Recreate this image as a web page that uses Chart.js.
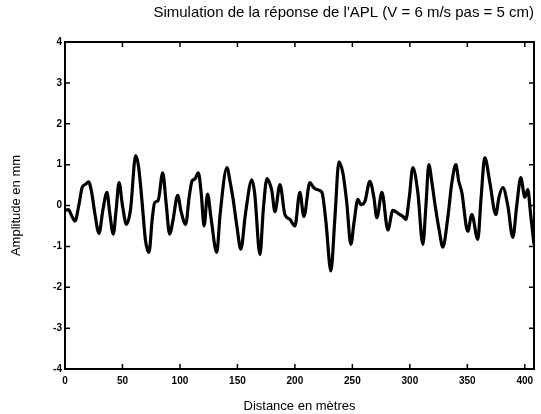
<!DOCTYPE html>
<html>
<head>
<meta charset="utf-8">
<script src="https://cdn.jsdelivr.net/npm/chart.js@4.4.0/dist/chart.umd.min.js"></script>
<style>
  html, body { margin: 0; padding: 0; background: #fff; }
  #wrap { width: 541px; height: 414px; }
</style>
</head>
<body>
<div id="wrap"><canvas id="myChart"></canvas></div>

<script>
// values (distance in m, amplitude in mm)
var distance = [0, 3, 5, 8.7, 12, 15, 18, 20.5, 23, 26, 29.6, 33, 36.5, 39, 42, 44.5, 47, 50, 53.5, 57,
  61.5, 64, 67, 70, 73, 76, 78, 81, 85, 88, 91, 94, 98, 101, 105, 108, 110.5, 113, 116, 118.5,
  121, 124, 127, 132, 135, 140.9, 143.5, 146, 149.5, 153, 157, 162.6, 165, 169.6, 172.5, 175.7, 178, 180, 182.6, 187,
  191.3, 195.7, 200, 204.3, 207.8, 213, 216, 219, 223.5, 227, 231.3, 234.8, 238.3, 241.7, 245, 248.7, 251.5, 254.8, 257.4, 260.9,
  265.2, 268.7, 271.3, 275.7, 280.9, 285.2, 290, 294, 296.5, 299.5, 302.6, 307, 311.3, 314, 316.5, 319, 322, 325.5, 328.7, 333,
  336.5, 340, 342.5, 345.2, 350.4, 353.9, 359.1, 362, 365.2, 369.6, 374.8, 377.5, 380.9, 385.2, 389.6, 393, 396.5, 400, 402.6, 405, 408];

var amplitude = [-0.12, -0.1, -0.2, -0.38, 0.0, 0.45, 0.52, 0.58, 0.35, -0.2, -0.68, -0.1, 0.32, -0.2, -0.7, -0.1, 0.56, 0.0, -0.46, -0.1,
  1.22, 0.95, 0.1, -0.85, -1.15, -0.3, 0.07, 0.12, 0.8, 0.05, -0.7, -0.35, 0.25, -0.15, -0.46, 0.2, 0.6, 0.65, 0.8, 0.3,
  -0.5, 0.28, -0.3, -1.15, -0.2, 0.93, 0.6, 0.2, -0.5, -1.07, -0.2, 0.63, 0.3, -1.2, -0.1, 0.66, 0.55, 0.35, -0.15, 0.51,
  -0.22, -0.34, -0.5, 0.32, -0.27, 0.56, 0.45, 0.39, 0.32, -0.4, -1.6, -0.3, 1.07, 0.8, 0.1, -0.95, -0.4, 0.15, 0.02, 0.1,
  0.59, 0.2, -0.3, 0.32, -0.6, -0.12, -0.2, -0.27, -0.34, 0.2, 0.93, 0.3, -0.95, 0.0, 1.0, 0.6, 0.0, -0.6, -1.02, -0.3,
  0.55, 1.0, 0.6, 0.32, -0.63, -0.22, -0.83, 0.2, 1.17, 0.56, -0.22, 0.2, 0.44, 0.0, -0.78, 0.0, 0.68, 0.2, 0.39, -0.2, -0.95];

var xMax = 408;
var xStep = 50;
var yMin = -4, yMax = 4;

var pts = [];
for (let i = 0; i < distance.length; i++) {
  pts.push({x: distance[i], y: amplitude[i]});
}

// matlab style box with inward ticks on all four sides
var frame = {
  id: 'frame',
  afterDatasetsDraw(chart) {
    const ctx = chart.ctx, a = chart.chartArea;
    const sx = chart.scales.x, sy = chart.scales.y;
    ctx.save();
    ctx.strokeStyle = '#000';
    ctx.lineWidth = 2;
    ctx.strokeRect(a.left, a.top, a.right - a.left, a.bottom - a.top);
    ctx.lineWidth = 1.5;
    ctx.beginPath();
    sx.ticks.forEach(t => {
      const p = sx.getPixelForValue(t.value);
      ctx.moveTo(p, a.bottom); ctx.lineTo(p, a.bottom - 5);
      ctx.moveTo(p, a.top); ctx.lineTo(p, a.top + 5);
    });
    sy.ticks.forEach(t => {
      const p = sy.getPixelForValue(t.value);
      ctx.moveTo(a.left, p); ctx.lineTo(a.left + 5, p);
      ctx.moveTo(a.right, p); ctx.lineTo(a.right - 5, p);
    });
    ctx.stroke();
    ctx.restore();
  }
};

Chart.defaults.font.family = '"Liberation Sans", Arial, sans-serif';
Chart.defaults.color = '#000';

new Chart("myChart", {
  type: "line",
  data: {
    datasets: [{
      data: pts,
      borderColor: "#000",
      borderWidth: 3.2,
      pointRadius: 0,
      cubicInterpolationMode: 'monotone',
      fill: false
    }]
  },
  options: {
    responsive: true,
    maintainAspectRatio: false,
    animation: false,
    layout: {padding: {right: 7}},
    plugins: {
      legend: {display: false},
      tooltip: {enabled: false},
      title: {
        display: true,
        text: "Simulation de la réponse de l'APL (V = 6 m/s pas = 5 cm)",
        align: 'end',
        font: {size: 15, weight: 'normal'},
        padding: {top: 4, bottom: 20}
      }
    },
    scales: {
      x: {
        type: 'linear',
        min: 0,
        max: xMax,
        grid: {display: false, drawTicks: false},
        border: {display: false},
        ticks: {stepSize: xStep, includeBounds: false, padding: 6, maxRotation: 0, font: {size: 10, weight: 'bold'}},
        afterFit: s => { s.height = 45; },
        title: {display: true, text: 'Distance en mètres', font: {size: 13}, padding: {top: 0, bottom: 0}}
      },
      y: {
        min: yMin,
        max: yMax,
        grid: {display: false, drawTicks: false},
        border: {display: false},
        ticks: {stepSize: 1, padding: 3, font: {size: 10, weight: 'bold'}},
        afterFit: s => { s.width = 65; },
        title: {display: true, text: 'Amplitude en mm', font: {size: 13}, padding: {top: 9, bottom: 0}}
      }
    }
  },
  plugins: [frame]
});
</script>
</body>
</html>
